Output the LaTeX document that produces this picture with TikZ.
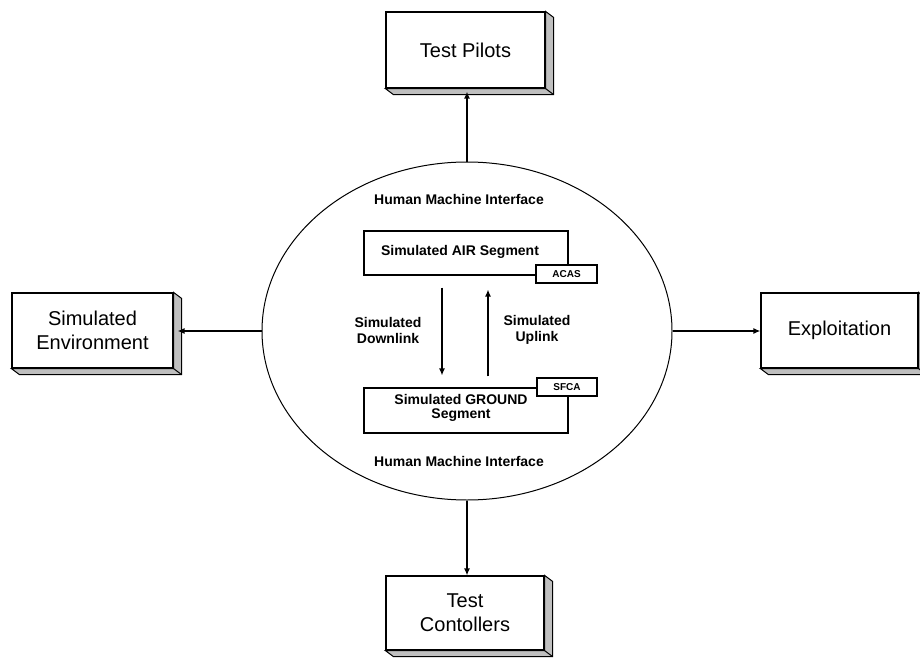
\documentclass[tikz,border=0pt]{standalone}
\usepackage{fontspec}
\setmainfont{Liberation Sans}
\usetikzlibrary{shapes.geometric,arrows.meta}
\newcommand\dropshade[1]{%
  \filldraw[shadowfill] (#1.north east) -- ++(8,6) -- ([shift={(8,6)}]#1.south east)
    -- ([shift={(8,6)}]#1.south west) -- (#1.south west) -- (#1.south east) -- cycle;
  \draw[line width=1pt] (#1.south east) -- ++(8,6);}
\begin{document}
\begin{tikzpicture}[x=1pt,y=-1pt,
  outerbox/.style={draw,line width=1.2pt,fill=white,inner sep=0pt,align=center,
    font=\fontsize{20}{24}\selectfont},
  innerbox/.style={draw,line width=1.1pt,fill=white,inner sep=0pt},
  tagbox/.style={draw,line width=1.1pt,fill=white,inner sep=0pt,
    font=\bfseries\fontsize{10}{11}\selectfont},
  lbl/.style={align=center,inner sep=0pt,font=\bfseries\fontsize{14}{16}\selectfont},
  arr/.style={line width=1.3pt,-{Latex[length=7pt,width=6pt]}},
  shadowfill/.style={fill=black!25,draw=black,line width=1pt}
]
\clip (0,0) rectangle (920,658);
\fill[white] (0,0) rectangle (920,658);

% outer boxes
\node[outerbox,minimum width=159pt,minimum height=76pt] (pilots) at (465.5,50) {Test Pilots};
\node[outerbox,minimum width=158pt,minimum height=74pt] (ctrl) at (465,613) {Test\\Contollers};
\node[outerbox,minimum width=161pt,minimum height=75pt] (env) at (92.5,330.5) {Simulated\\Environment};
\node[outerbox,minimum width=157pt,minimum height=75pt] (expl) at (839.5,330.5) {Exploitation};
\dropshade{pilots}
\dropshade{ctrl}
\dropshade{env}
\dropshade{expl}

% ellipse
\node[ellipse,draw,line width=1pt,minimum width=410pt,minimum height=338pt,inner sep=0pt] (hmi) at (467,331) {};
\node[lbl] (hmitop) at (459,199) {Human Machine Interface};
\node[lbl] (hmibot) at (459,461) {Human Machine Interface};

% inner boxes
\node[innerbox,minimum width=204pt,minimum height=44pt] (air) at (466,253) {};
\node[lbl] (airlbl) at (460,252) {Simulated AIR Segment};
\node[tagbox,minimum width=61pt,minimum height=18pt] (acas) at (566.5,274) {ACAS};
\node[innerbox,minimum width=204pt,minimum height=45pt] (ground) at (466,410.5) {};
\node[lbl,font=\bfseries\fontsize{14}{14}\selectfont] (groundlbl) at (461,408) {Simulated GROUND\\Segment};
\node[tagbox,minimum width=60pt,minimum height=18pt] (sfca) at (567,387) {SFCA};

% links
\coordinate (dl) at (442,331);
\coordinate (ul) at (488,331);
\draw[arr,shorten <=12pt,shorten >=12pt] (air.south -| dl) -- (ground.north -| dl);
\draw[arr,shorten <=11pt,shorten >=14pt] (ground.north -| ul) -- (air.south -| ul);
\node[lbl] (dllbl) at (388,330) {Simulated\\Downlink};
\node[lbl] (ullbl) at (537,330) {Simulated\\Uplink};

% outer connectors
\draw[arr] (hmi.north) -- ([yshift=-3pt]hmi.north |- pilots.south);
\draw[arr] (hmi.south) -- (hmi.south |- ctrl.north);
\draw[arr] (hmi.west) -- ([xshift=4pt]env.east |- hmi.west);
\draw[arr] (hmi.east) -- (expl.west |- hmi.east);
\end{tikzpicture}
\end{document}
